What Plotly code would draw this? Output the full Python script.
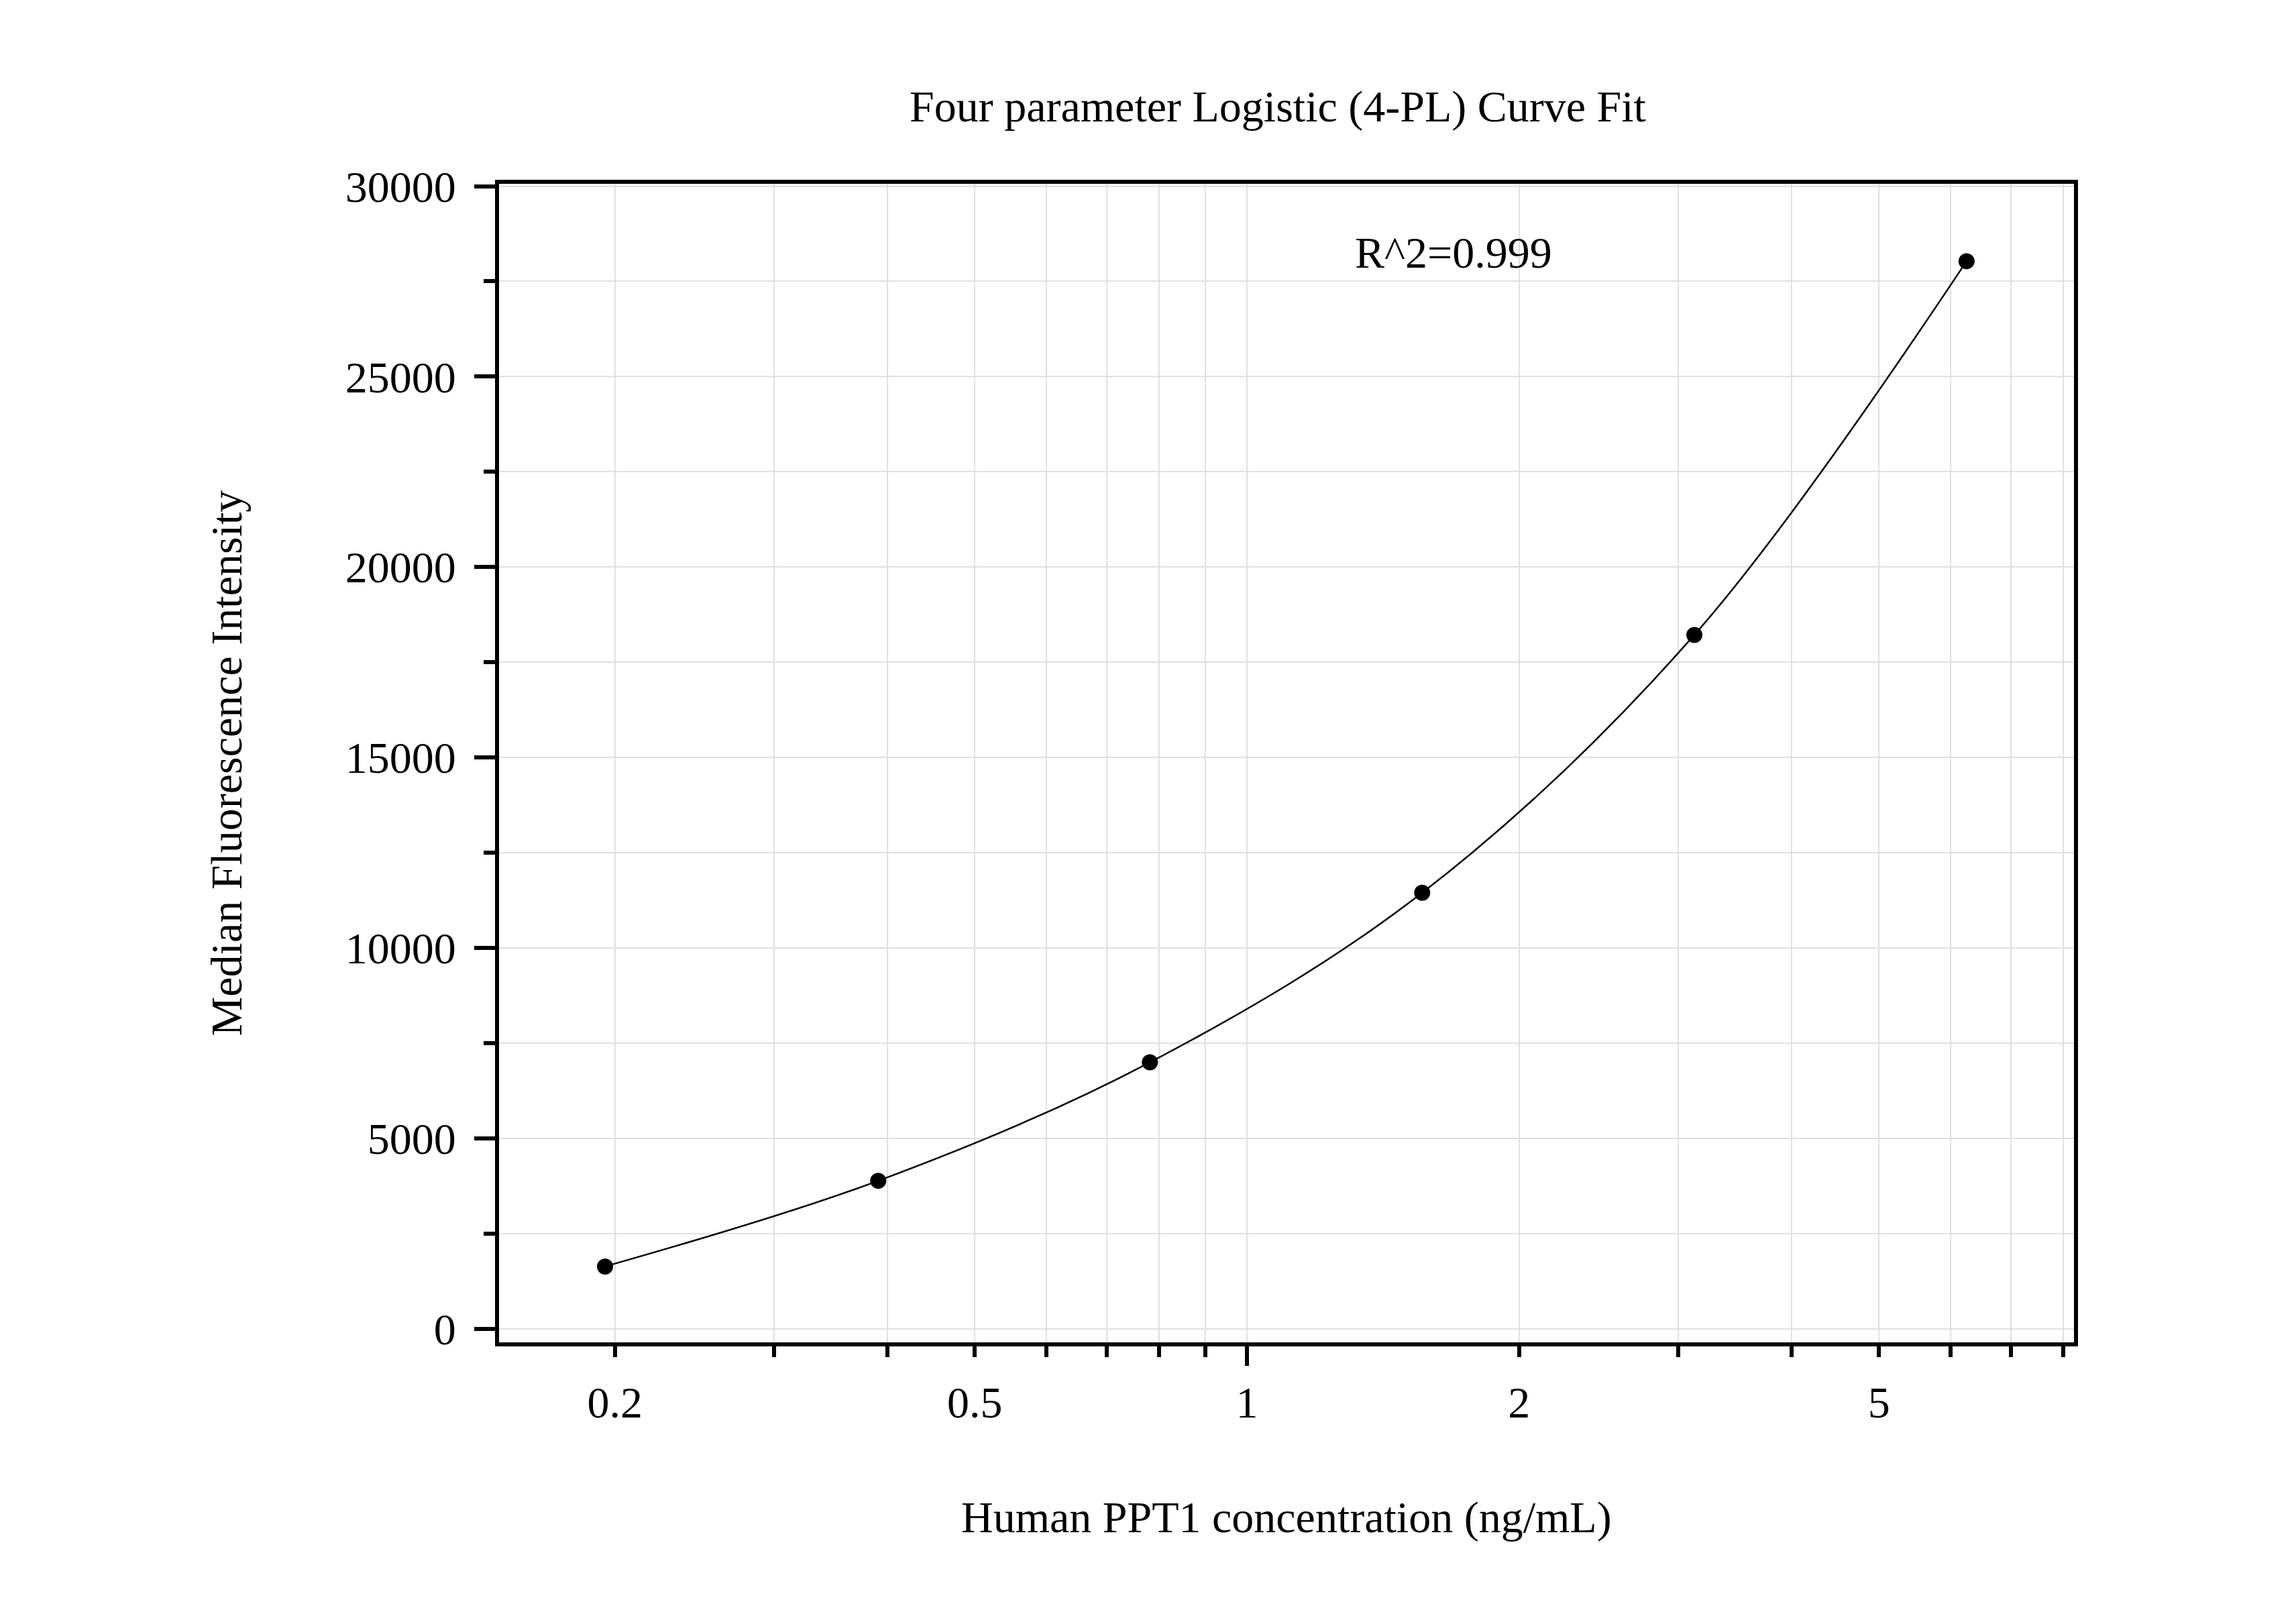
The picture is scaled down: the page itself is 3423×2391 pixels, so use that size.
import plotly.graph_objects as go

# standard points
conc = [0.195, 0.391, 0.781, 1.5625, 3.125, 6.25]
mfi = [1640, 3890, 7000, 11450, 18220, 28030]

x_major = [0.2, 0.5, 1, 2, 5]
x_major_text = ["0.2", "0.5", "1", "2", "5"]
x_minor = [0.3, 0.4, 0.6, 0.7, 0.8, 0.9, 3, 4, 6, 7, 8]
x_decade = [1]

title_text = "Four parameter Logistic (4-PL) Curve Fit"
x_title = "Human PPT1 concentration (ng/mL)"
y_title = "Median Fluorescence Intensity"
r2_text = "R^2=0.999"

FONT = "Liberation Serif"
GRID = "#e0e0e0"
X_RANGE = [-0.8272, 0.9147]
Y_RANGE = [-352, 30062]

# page body has an 8px margin, so the figure is drawn 16px smaller
W, H = 3415, 2383

fig = go.Figure()

# fitted curve
fig.add_trace(go.Scatter(
    x=conc, y=mfi, mode="lines", line=dict(color="black", width=2.5, shape="spline"),
    showlegend=False, hoverinfo="skip",
))
# standards
fig.add_trace(go.Scatter(
    x=conc, y=mfi, mode="markers", xaxis="x2",
    marker=dict(color="black", size=24), showlegend=False,
))

axis_common = dict(
    showline=True, linewidth=6, linecolor="black", mirror=True,
    ticks="outside", tickwidth=6, tickcolor="black",
    showgrid=True, gridcolor=GRID, gridwidth=2, zeroline=False,
    tickfont=dict(family=FONT, size=66, color="black"),
)

fig.update_layout(
    width=W, height=H,
    margin=dict(l=736, r=331, t=266, b=390),
    paper_bgcolor="white", plot_bgcolor="white",
    title=dict(text=title_text, x=1897 / W, xanchor="center",
               y=1 - 150 / H, yanchor="middle", yref="container",
               font=dict(family=FONT, size=66, color="black")),
    xaxis=dict(
        type="log", range=X_RANGE, tickmode="array",
        tickvals=x_major, ticktext=x_major_text, ticklen=16,
        ticklabelstandoff=11,
        minor=dict(tickmode="array", tickvals=x_minor, ticks="outside", ticklen=16,
                   tickwidth=6, tickcolor="black", showgrid=True,
                   gridcolor=GRID, gridwidth=2),
        **axis_common,
    ),
    xaxis2=dict(
        type="log", range=X_RANGE, overlaying="x", anchor="y", side="bottom",
        tickmode="array", tickvals=x_decade, ticks="outside", ticklen=34,
        tickwidth=6, tickcolor="black", showticklabels=False,
        showgrid=False, showline=False, zeroline=False,
    ),
    yaxis=dict(
        range=Y_RANGE, tick0=0, dtick=5000, tickformat="d", ticklen=31,
        ticklabelstandoff=14,
        minor=dict(dtick=2500, ticks="outside", ticklen=17, tickwidth=6,
                   tickcolor="black", showgrid=True, gridcolor=GRID, gridwidth=2),
        **axis_common,
    ),
    annotations=[
        dict(text=r2_text, xref="paper", yref="paper", x=0.6060, y=0.9407,
             xanchor="center", yanchor="middle", showarrow=False,
             font=dict(family=FONT, size=66, color="black")),
        dict(text=x_title, xref="paper", yref="paper", x=0.5, y=-0.1511,
             xanchor="center", yanchor="middle", showarrow=False,
             font=dict(family=FONT, size=66, color="black")),
        dict(text=y_title, xref="paper", yref="paper", x=-0.1733, y=0.5001,
             xanchor="center", yanchor="middle", textangle=-90, showarrow=False,
             font=dict(family=FONT, size=66, color="black")),
    ],
)

fig.write_html("out.html")
